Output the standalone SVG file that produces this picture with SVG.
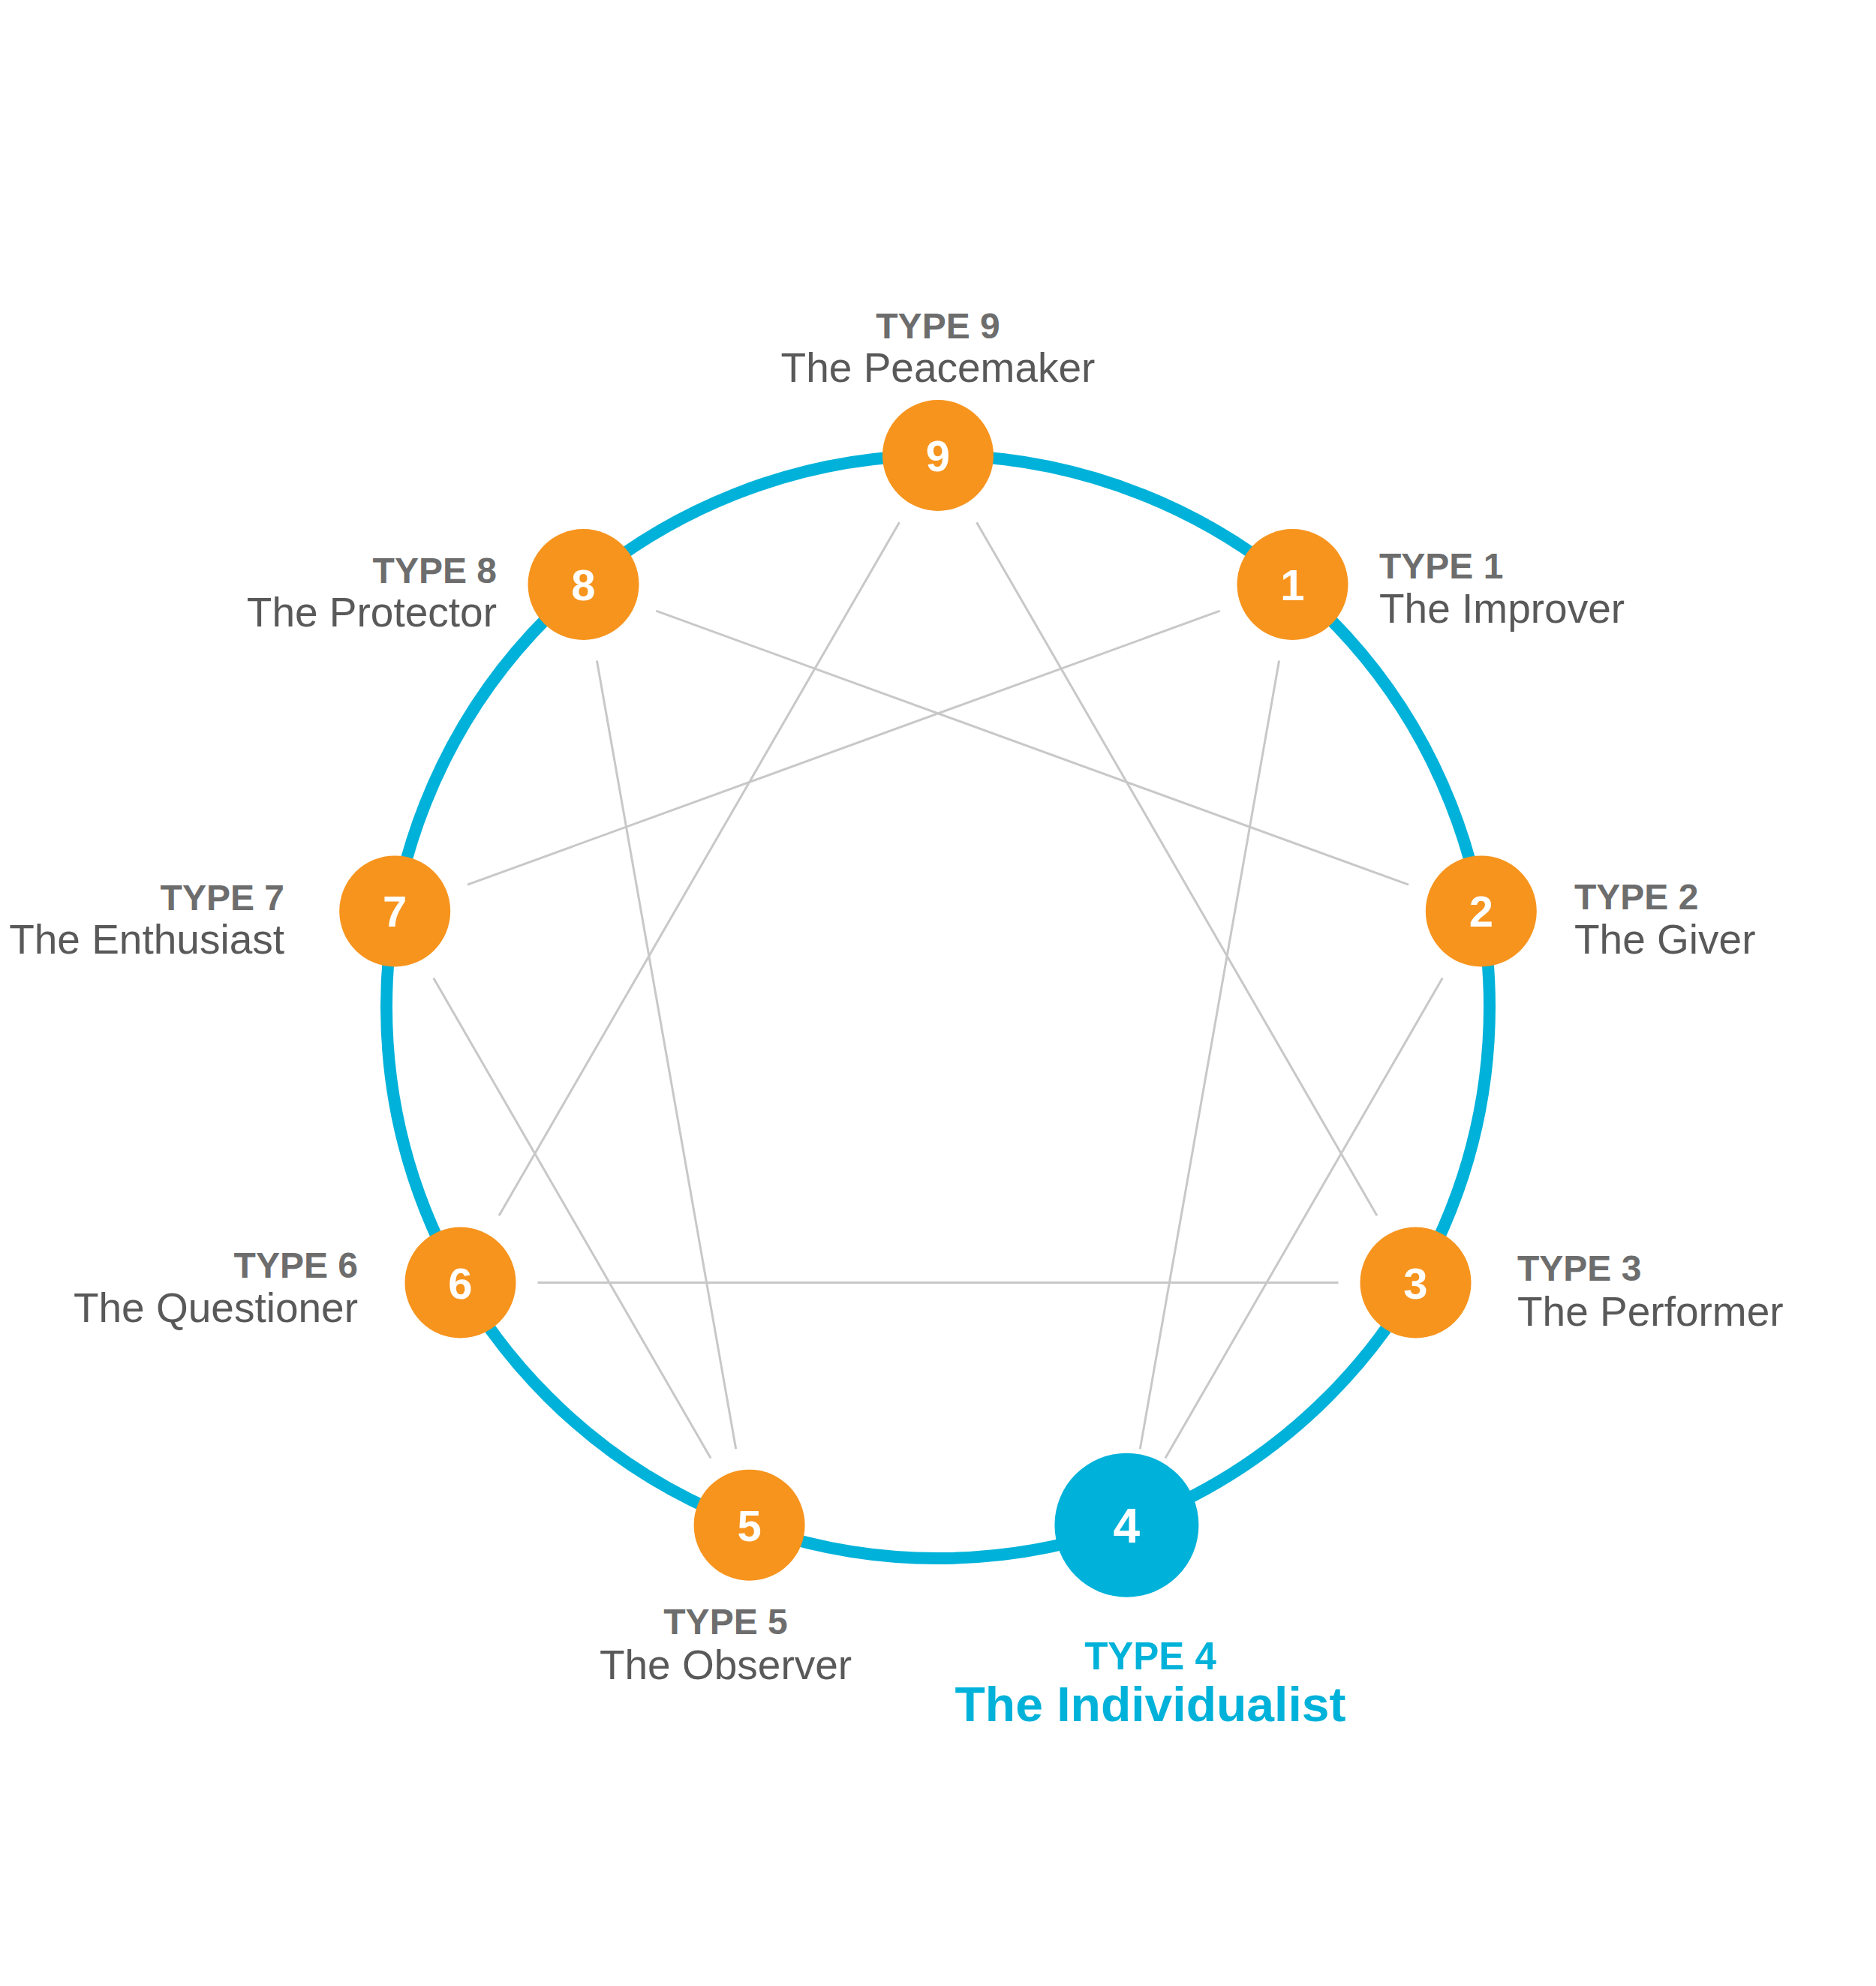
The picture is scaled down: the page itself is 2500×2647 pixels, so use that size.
<svg xmlns="http://www.w3.org/2000/svg" width="2500" height="2647" viewBox="0 0 2500 2647">
<style>
.ring{fill:none;stroke:#00b2d9;stroke-width:16}
.conn line{stroke:#c8c8c8;stroke-width:3;fill:none}
.dot{fill:#f7941d}
.dot4{fill:#00b2d9}
.num{font-family:"Liberation Sans",Arial,sans-serif;font-weight:bold;font-size:58px;fill:#ffffff;text-anchor:middle}
.t{font-family:"Liberation Sans",Arial,sans-serif;font-weight:bold;font-size:48px;fill:#6d6d6d}
.n{font-family:"Liberation Sans",Arial,sans-serif;font-size:55px;fill:#595959}
.s{text-anchor:start}.e{text-anchor:end}.m{text-anchor:middle}
</style>
<rect width="2500" height="2647" fill="#ffffff"/>
<circle class="ring" cx="1250" cy="1342" r="735"/>
<g class="conn" id="connectors">
<line x1="1301.5" y1="696.2" x2="1835.0" y2="1620.3"/>
<line x1="1783.5" y1="1709.5" x2="716.5" y2="1709.5"/>
<line x1="665.0" y1="1620.3" x2="1198.5" y2="696.2"/>
<line x1="1704.6" y1="880.4" x2="1519.3" y2="1931.2"/>
<line x1="1552.9" y1="1943.5" x2="1922.3" y2="1303.6"/>
<line x1="1877.0" y1="1179.1" x2="874.3" y2="814.2"/>
<line x1="795.4" y1="880.4" x2="980.7" y2="1931.2"/>
<line x1="947.1" y1="1943.5" x2="577.7" y2="1303.6"/>
<line x1="623.0" y1="1179.1" x2="1625.7" y2="814.2"/>
</g>
<g id="node9">
<circle class="dot" cx="1250" cy="607" r="74"/>
<text class="num" x="1250" y="628">9</text>
<text class="t m" x="1250" y="451">TYPE 9</text>
<text class="n m" x="1250" y="509">The Peacemaker</text>
</g>
<g id="node1">
<circle class="dot" cx="1722.5" cy="779" r="74"/>
<text class="num" x="1722.5" y="800">1</text>
<text class="t s" x="1838" y="771">TYPE 1</text>
<text class="n s" x="1838" y="830">The Improver</text>
</g>
<g id="node2">
<circle class="dot" cx="1973.8" cy="1214.4" r="74"/>
<text class="num" x="1973.8" y="1235.4">2</text>
<text class="t s" x="2098" y="1211.5">TYPE 2</text>
<text class="n s" x="2098" y="1271">The Giver</text>
</g>
<g id="node3">
<circle class="dot" cx="1886.5" cy="1709.5" r="74"/>
<text class="num" x="1886.5" y="1730.5">3</text>
<text class="t s" x="2022" y="1707">TYPE 3</text>
<text class="n s" x="2022" y="1766.5">The Performer</text>
</g>
<g id="node4">
<circle class="dot4" cx="1501.4" cy="2032.7" r="96"/>
<text class="num" style="font-size:64px" x="1501.4" y="2056">4</text>
<text class="t m" style="fill:#00b2d9;font-size:51px" x="1533" y="2225">TYPE 4</text>
<text class="n m" style="fill:#00b2d9;font-weight:bold;font-size:64px" x="1533" y="2294" textLength="521" lengthAdjust="spacingAndGlyphs">The Individualist</text>
</g>
<g id="node5">
<circle class="dot" cx="998.6" cy="2032.7" r="74"/>
<text class="num" x="998.6" y="2053.7">5</text>
<text class="t m" x="967" y="2178">TYPE 5</text>
<text class="n m" x="967" y="2238">The Observer</text>
</g>
<g id="node6">
<circle class="dot" cx="613.5" cy="1709.5" r="74"/>
<text class="num" x="613.5" y="1730.5">6</text>
<text class="t e" x="477" y="1703">TYPE 6</text>
<text class="n e" x="477" y="1762">The Questioner</text>
</g>
<g id="node7">
<circle class="dot" cx="526.2" cy="1214.4" r="74"/>
<text class="num" x="526.2" y="1235.4">7</text>
<text class="t e" x="379" y="1212.5">TYPE 7</text>
<text class="n e" x="379" y="1271">The Enthusiast</text>
</g>
<g id="node8">
<circle class="dot" cx="777.5" cy="779" r="74"/>
<text class="num" x="777.5" y="800">8</text>
<text class="t e" x="662" y="776.5">TYPE 8</text>
<text class="n e" x="662" y="835">The Protector</text>
</g>
</svg>
